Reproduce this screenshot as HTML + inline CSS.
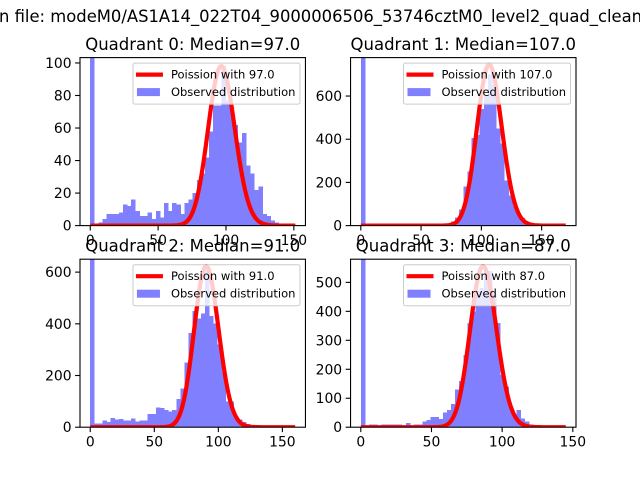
<!DOCTYPE html>
<html><head><meta charset="utf-8"><style>
body{margin:0;background:#fff;}
svg{display:block;font-family:"DejaVu Sans","Liberation Sans",sans-serif;}
</style></head><body>
<svg id="fig" width="640" height="480" viewBox="0 0 640 480">
<rect width="640" height="480" fill="#fff"/>
<text x="-1" y="22" font-size="16.4" fill="#000">n file: modeM0/AS1A14_022T04_9000006506_53746cztM0_level2_quad_clean</text>
</svg>
<script>
const medians = [97.0, 107.0, 91.0, 87.0];
const poissonMu = [97.0, 107.0, 91.0, 87.0];
const poissonPeak = [98, 745, 623, 556];
const dataMax = [151, 170, 160, 145];
const yMax = [103.3, 778, 650, 580];
const yTicks0 = [0, 20, 40, 60, 80, 100];
const yTicks1 = [0, 200, 400, 600];
const yTicks2 = [0, 200, 400, 600];
const yTicks3 = [0, 100, 200, 300, 400, 500];
const xTicks = [0, 50, 100, 150];
const counts0 = [160,1,2,4,7,7,7,8,13,12,16,9,6,6,8,4,9,5,14,9,14,13,7,14,16,20,28,32,42,58,74,74,98,77,73,62,51,57,37,32,22,24,7,6,3,2,1,1,1,1];
const counts1 = [1200,0,0,0,0,0,0,0,0,0,0,0,0,0,0,0,8,2,3,3,4,6,20,38,75,180,250,405,420,540,600,700,650,450,380,210,140,90,55,35,20,12,8,5,3,2,1,1,1,1];
const counts2 = [1000,15,15,25,20,35,30,32,25,25,33,23,25,25,51,51,77,75,66,60,66,109,150,250,365,450,420,440,608,430,402,320,215,100,100,40,30,20,12,5,2,1,1,1,0,0,0,0,0,1];
const counts3 = [900,0,10,10,0,10,10,10,10,10,0,15,3,10,10,20,25,35,35,28,50,60,80,130,160,250,360,400,470,480,540,540,460,360,180,140,70,40,60,30,20,10,3,2,1,1,1,0,0,1];

const NS = "http://www.w3.org/2000/svg";
const svg = document.getElementById('fig');
function mk(tag, attrs, parent) {
  const e = document.createElementNS(NS, tag);
  for (const k in attrs) e.setAttribute(k, attrs[k]);
  (parent || svg).appendChild(e);
  return e;
}
function lgamma(n) { let s = 0; for (let i = 2; i <= n; i++) s += Math.log(i); return s; }

const allCounts = [counts0, counts1, counts2, counts3];
const allYTicks = [yTicks0, yTicks1, yTicks2, yTicks3];
const axW = 225.45, axH = 168;
const lefts = [80, 350.55, 80, 350.55];
const tops = [57.6, 57.6, 259.2, 259.2];

for (let p = 0; p < 4; p++) {
  const L = lefts[p], T = tops[p], B = T + axH, R = L + axW;
  const xmin = -0.05 * dataMax[p], xmax = dataMax[p] * 1.05;
  const sx = v => L + (v - xmin) / (xmax - xmin) * axW;
  const sy = v => B - v / yMax[p] * axH;
  const g = mk('g', {});
  
  
  const clipId = 'clip' + p;
  const cp = mk('clipPath', {id: clipId}, g);
  mk('rect', {x: L, y: T, width: axW, height: axH}, cp);
  const plot = mk('g', {'clip-path': 'url(#' + clipId + ')'}, g);
  const counts = allCounts[p];
  const bw = dataMax[p] / counts.length;
  counts.forEach((c, i) => {
    if (c <= 0) return;
    const r = mk('rect', {x: sx(i * bw), y: sy(c), width: sx((i + 1) * bw) - sx(i * bw) + 0.4, height: sy(0) - sy(c), fill: '#8080ff', 'shape-rendering': 'crispEdges'}, plot);
    
    
  });
  const mu = poissonMu[p];
  const pmfPeak = Math.exp(Math.floor(mu) * Math.log(mu) - mu - lgamma(Math.floor(mu)));
  let d = '';
  for (let k = 0; k <= dataMax[p]; k++) {
    const v = Math.exp(k * Math.log(mu) - mu - lgamma(k)) / pmfPeak * poissonPeak[p];
    d += (k ? 'L' : 'M') + sx(k).toFixed(2) + ' ' + sy(v).toFixed(2);
  }
  const curve = mk('path', {d: d, fill: 'none', stroke: '#ff0000', 'stroke-width': 4.2, 'stroke-linejoin': 'round'}, plot);
  
  
  const frame = mk('rect', {x: L, y: T, width: axW, height: axH, fill: 'none', stroke: '#000', 'stroke-width': 1.1}, g);
  
  
  xTicks.forEach(t => {
    if (t > xmax) return;
    const x = sx(t);
    mk('line', {x1: x, x2: x, y1: B, y2: B + 4.9, stroke: '#000', 'stroke-width': 1.1}, g);
    const tx = mk('text', {x: x, y: B + 19.5, 'font-size': 13.9, 'text-anchor': 'middle', fill: '#000'}, g);
    tx.textContent = String(t);
    
    
  });
  allYTicks[p].forEach(t => {
    const y = sy(t);
    mk('line', {x1: L - 4.9, x2: L, y1: y, y2: y, stroke: '#000', 'stroke-width': 1.1}, g);
    const ty = mk('text', {x: L - 8.4, y: y + 5, 'font-size': 13.9, 'text-anchor': 'end', fill: '#000'}, g);
    ty.textContent = String(t);
    
    
  });
  const tt = mk('text', {x: L + axW / 2, y: T - 7.5, 'font-size': 16.5, 'text-anchor': 'middle', fill: '#000'}, g);
  tt.textContent = 'Quadrant ' + p + ': Median=' + medians[p].toFixed(1);
  
  
  const lg = mk('g', {}, g);
  
  
  const lx = R - 5.5 - 167, ly = T + 5.5;
  mk('rect', {x: lx, y: ly, width: 167, height: 41, rx: 2, fill: '#fff', 'fill-opacity': 0.8, stroke: '#cccccc', 'stroke-width': 1}, lg);
  mk('line', {x1: lx + 3, x2: lx + 30, y1: ly + 11.5, y2: ly + 11.5, stroke: '#ff0000', 'stroke-width': 4.2}, lg);
  const t1 = mk('text', {x: lx + 38, y: ly + 15.5, 'font-size': 11.5, fill: '#000'}, lg);
  t1.textContent = 'Poission with ' + poissonMu[p].toFixed(1);
  
  
  mk('rect', {x: lx + 4, y: ly + 25, width: 23, height: 8, fill: '#8080ff'}, lg);
  const t2 = mk('text', {x: lx + 38, y: ly + 33, 'font-size': 11.5, fill: '#000'}, lg);
  t2.textContent = 'Observed distribution';
  
  
}
</script>
</body></html>
